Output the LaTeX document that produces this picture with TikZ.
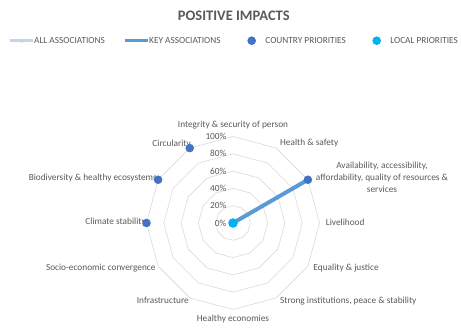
\documentclass[tikz,border=0pt]{standalone}
\usepackage{fontspec}
\setmainfont{Carlito}
\usetikzlibrary{positioning,calc}
\definecolor{textgray}{RGB}{89,89,89}
\definecolor{gridgray}{RGB}{217,217,217}
\definecolor{allblue}{RGB}{189,215,238}
\definecolor{keyblue}{RGB}{91,155,213}
\definecolor{countryblue}{RGB}{68,114,196}
\definecolor{localblue}{RGB}{0,176,240}

\begin{document}
\begin{tikzpicture}[x=1pt,y=1pt,font=\fontsize{9.3}{12}\selectfont,text=textgray,
  catlabel/.style={inner sep=0pt},
  legtext/.style={inner sep=0pt, anchor=west},
  cdot/.style={circle, fill=countryblue, inner sep=0pt, minimum size=8.6pt},
  ldot/.style={circle, fill=localblue, inner sep=0pt, minimum size=9.6pt},
  keyline/.style={keyblue, line width=4pt},
  allline/.style={allblue, line width=3pt}]
\useasboundingbox (-233,-104) rectangle (228,223);

% Title and legend
\node[font=\fontsize{14.5}{16}\selectfont\bfseries] (title) at (0.8,207.7) {POSITIVE IMPACTS};
\coordinate (allA) at (-223,182.3);
\coordinate (allB) at (-200,182.3);
\draw[allline] (allA) -- (allB);
\fill[allblue] ($(allA)!0.5!(allB)$) circle (2);
\node[legtext, right=1pt of allB] (alltext) {ALL ASSOCIATIONS};
\coordinate (keyA) at (-108,182.3);
\coordinate (keyB) at (-85,182.3);
\draw[keyblue, line width=3.5pt] (keyA) -- (keyB);
\node[legtext, right=1pt of keyB] (keytext) {KEY ASSOCIATIONS};
\node[cdot] (countrymark) at (18.7,182.3) {};
\node[legtext, right=9pt of countrymark] (countrytext) {COUNTRY PRIORITIES};
\node[ldot, minimum size=8.6pt] (localmark) at (143.7,182.3) {};
\node[legtext, right=9pt of localmark] (localtext) {LOCAL PRIORITIES};

% Grid rings
\foreach \r in {17.3,34.6,51.9,69.2,86.5}
  \draw[gridgray, line width=0.6pt] (90:\r) \foreach \a in {60,30,...,-240} { -- (\a:\r) } -- cycle;

% Value axis labels
\foreach \p in {0,20,40,60,80,100}
  \node[anchor=east, inner sep=0pt] at (-6.5,\p*0.865) {\p\%};

% Category labels
\node[catlabel] (integrity) at (0,98) {Integrity \& security of person};
\node[catlabel, anchor=west] (health) at (47,80) {Health \& safety};
\node[catlabel, align=center] (availability) at (149,46) {Availability, accessibility,\\affordability, quality of resources \&\\services};
\node[catlabel, anchor=west] (livelihood) at (92.7,1) {Livelihood};
\node[catlabel, anchor=west] (equality) at (80.3,-44.7) {Equality \& justice};
\node[catlabel, anchor=west] (institutions) at (47,-78) {Strong institutions, peace \& stability};
\node[catlabel] (economies) at (0,-96) {Healthy economies};
\node[catlabel, anchor=east] (infrastructure) at (-44,-77.7) {Infrastructure};
\node[catlabel, anchor=east] (convergence) at (-77.3,-44.7) {Socio-economic convergence};
\node[catlabel, anchor=east] (climate) at (-87,1) {Climate stability};
\node[catlabel, anchor=east] (biodiversity) at (-76,45.3) {Biodiversity \& healthy ecosystems};
\node[catlabel, anchor=east] (circularity) at (-42,79) {Circularity};

% Data series
\coordinate (origin) at (0,0);
\coordinate (pavail) at (30:86.5);
\draw[keyline] (origin) -- (pavail);
\node[cdot] (davail) at (pavail) {};
\node[cdot] (dcirc) at (120:86.5) {};
\node[cdot] (dbio) at (150:86.5) {};
\node[cdot] (dclimate) at (180:86.5) {};
\node[ldot] (dlocal) at (origin) {};
\end{tikzpicture}
\end{document}
